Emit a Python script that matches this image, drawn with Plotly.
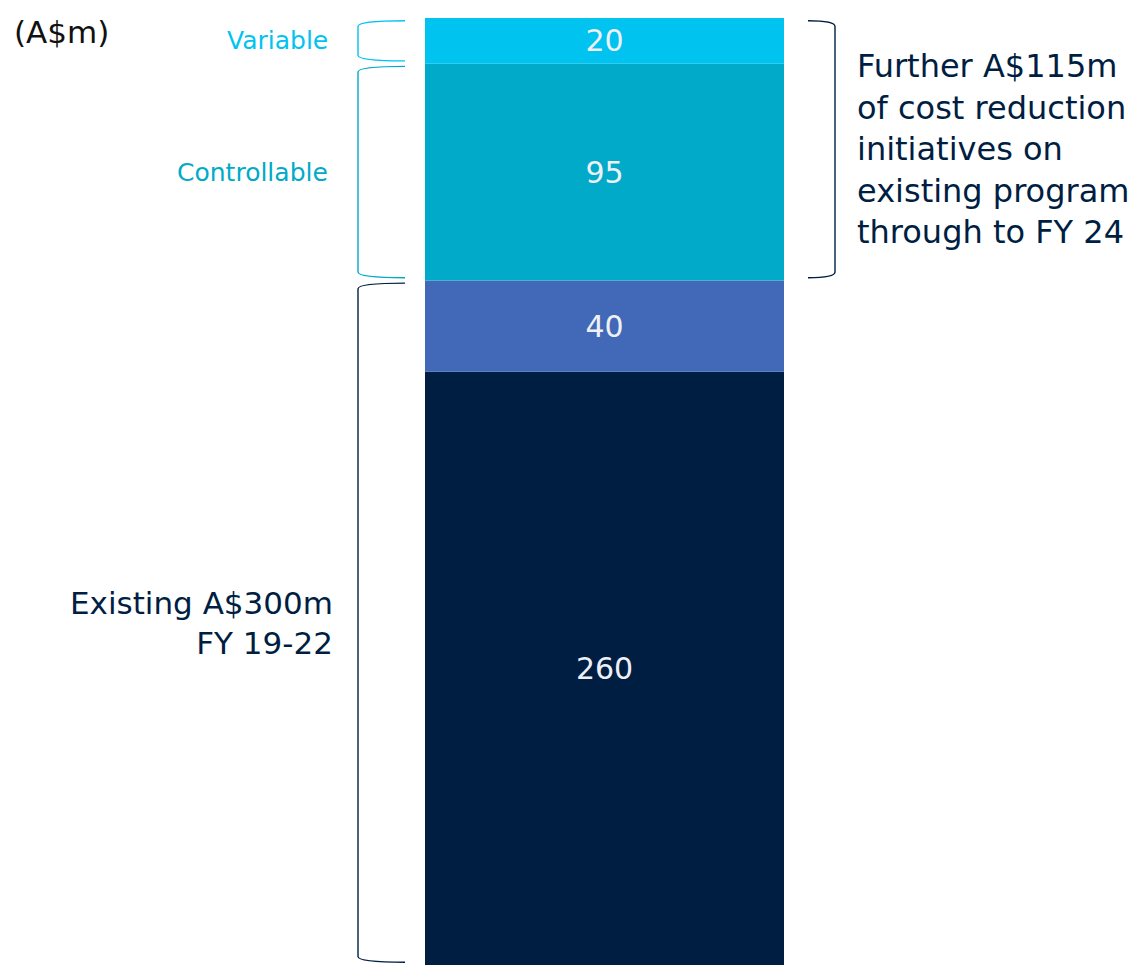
import plotly.graph_objects as go

# Data
segments = ["Existing (part 1)", "Existing (part 2)", "Controllable", "Variable"]
values = [260, 40, 95, 20]
colors = ["#001E42", "#4169B8", "#00AAC8", "#00C3F0"]
unit_label = "(A$m)"
existing_label = "Existing A$300m<br>FY 19-22"
further_label = "Further A$115m<br>of cost reduction<br>initiatives on<br>existing program<br>through to FY 24"

W, H = 1135, 965
BAR_C, BAR_W = 604.5, 359
total = sum(values)
font = "DejaVu Sans"

fig = go.Figure()
base = 0
for name, v, c in zip(segments, values, colors):
    fig.add_trace(go.Bar(
        x=[BAR_C], y=[v], base=[base], width=[BAR_W], name=name,
        marker=dict(color=c, line=dict(width=0)),
        text=[str(v)], textposition="inside", insidetextanchor="middle",
        textangle=0, textfont=dict(color="#EEF0F5", size=30, family=font),
        hoverinfo="skip", showlegend=False,
    ))
    base += v

cum = [0]
for v in values:
    cum.append(cum[-1] + v)

def bracket(y1, y2, xv, xt, color, gap=1.2, d=2.5):
    a, b = y1 + gap, y2 - gap
    path = (f"M {xt},{b} Q {xv},{b} {xv},{b - d} L {xv},{a + d} "
            f"Q {xv},{a} {xt},{a}")
    fig.add_shape(type="path", path=path, xref="x", yref="y",
                  line=dict(color=color, width=1.4))

# left brackets
bracket(cum[0], cum[2], 358, 405, "#001E42")
bracket(cum[2], cum[3], 358, 405, "#00AAC8")
bracket(cum[3], cum[4], 358, 405, "#00C3F0")
# right bracket
bracket(cum[2], cum[4], 835, 808, "#001E42")

fig.add_annotation(x=12, y=total - 6, xref="x", yref="y", yanchor="middle",
                   xanchor="left", text=unit_label, showarrow=False,
                   font=dict(size=31, color="#111111", family=font))
fig.add_annotation(x=330, y=(cum[3] + cum[4]) / 2, xref="x", yref="y",
                   xanchor="right", text="Variable", showarrow=False,
                   font=dict(size=25, color="#00C3F0", family=font))
fig.add_annotation(x=330, y=(cum[2] + cum[3]) / 2, xref="x", yref="y",
                   xanchor="right", text="Controllable", showarrow=False,
                   font=dict(size=25, color="#00AAC8", family=font))
fig.add_annotation(x=335, y=(cum[0] + cum[2]) / 2, xref="x", yref="y",
                   xanchor="right", align="right", text=existing_label,
                   showarrow=False,
                   font=dict(size=31, color="#001E42", family=font))
fig.add_annotation(x=855, y=(cum[2] + cum[4]) / 2, xref="x", yref="y",
                   xanchor="left", align="left", text=further_label,
                   showarrow=False,
                   font=dict(size=32, color="#001E42", family=font))

fig.update_layout(
    width=W, height=H,
    margin=dict(l=0, r=0, t=18, b=0),
    paper_bgcolor="white", plot_bgcolor="white",
    barmode="overlay",
    xaxis=dict(range=[0, W], visible=False, fixedrange=True),
    yaxis=dict(range=[0, total], visible=False, fixedrange=True),
    uniformtext=dict(minsize=28, mode="show"),
)
fig.write_html("out.html", config={"displayModeBar": False},
               post_script="document.body.style.margin='0';")
